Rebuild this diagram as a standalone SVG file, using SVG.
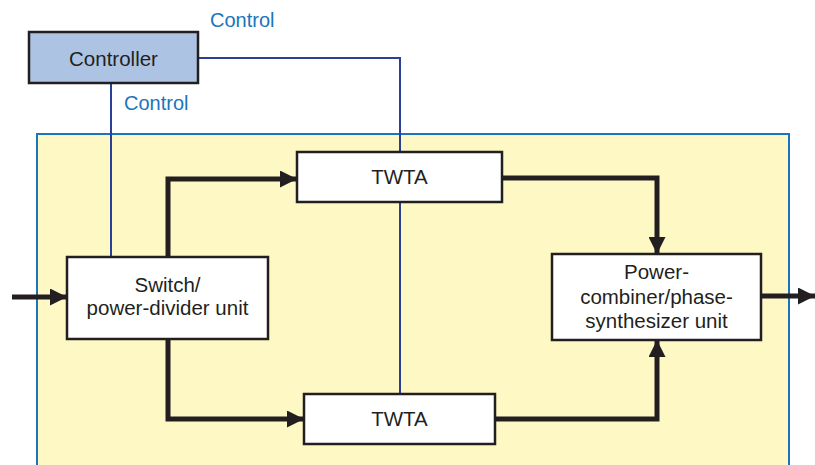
<svg xmlns="http://www.w3.org/2000/svg" width="815" height="465" viewBox="0 0 815 465">
<defs>
<marker id="ah" viewBox="0 0 10 10" refX="10" refY="5" markerWidth="3.4" markerHeight="3.4" markerUnits="strokeWidth" orient="auto">
<path d="M0,0 L10,5 L0,10 Z" fill="#231f20"/>
</marker>
<style>
.box{fill:#ffffff;stroke:#231f20;stroke-width:2.5}
.ctrlbox{fill:#adc3e3;stroke:#231f20;stroke-width:2.5}
.t{font-family:"Liberation Sans",Arial,sans-serif;font-size:20.5px;fill:#231f20;text-anchor:middle}
.lbl{font-family:"Liberation Sans",Arial,sans-serif;font-size:20px;fill:#1a75bc}
.ctl{fill:none;stroke:#2a3f96;stroke-width:2}
.sig{fill:none;stroke:#231f20;stroke-width:5;marker-end:url(#ah)}
</style>
</defs>
<rect x="0" y="0" width="815" height="465" fill="#ffffff"/>
<rect id="panel" x="37" y="134" width="752" height="340" fill="#fef8c4" stroke="#1a75bc" stroke-width="2"/>
<g id="connectors">
<polyline class="ctl" points="198,58 400,58 400,152"/>
<line class="ctl" x1="400" y1="202" x2="400" y2="394"/>
<line class="ctl" x1="111" y1="83" x2="111" y2="257"/>
<polyline class="sig" points="168,257 168,179 297,179"/>
<polyline class="sig" points="168,339 168,419 304,419"/>
<polyline class="sig" points="502,178 657,178 657,254"/>
<polyline class="sig" points="495,419 657,419 657,340"/>
<line class="sig" x1="12" y1="297" x2="67" y2="297"/>
<line class="sig" x1="761" y1="296" x2="815" y2="296"/>
</g>
<text class="lbl" x="210" y="26.5">Control</text>
<text class="lbl" x="124" y="110">Control</text>
<g id="controller">
<rect class="ctrlbox" x="29" y="32" width="169" height="51"/>
<text class="t" x="113.5" y="65.5">Controller</text>
</g>
<g id="twta-top">
<rect class="box" x="297" y="152" width="205" height="50"/>
<text class="t" x="399.5" y="184">TWTA</text>
</g>
<g id="twta-bottom">
<rect class="box" x="304" y="394" width="191" height="50"/>
<text class="t" x="399.5" y="426">TWTA</text>
</g>
<g id="switch">
<rect class="box" x="67" y="257" width="201" height="82"/>
<text class="t" x="167.5" y="291.5">Switch/</text>
<text class="t" x="167.5" y="315">power-divider unit</text>
</g>
<g id="combiner">
<rect class="box" x="552" y="254" width="209" height="86"/>
<text class="t" x="656.5" y="279">Power-</text>
<text class="t" x="656.5" y="303.5">combiner/phase-</text>
<text class="t" x="656.5" y="327.5">synthesizer unit</text>
</g>
</svg>
